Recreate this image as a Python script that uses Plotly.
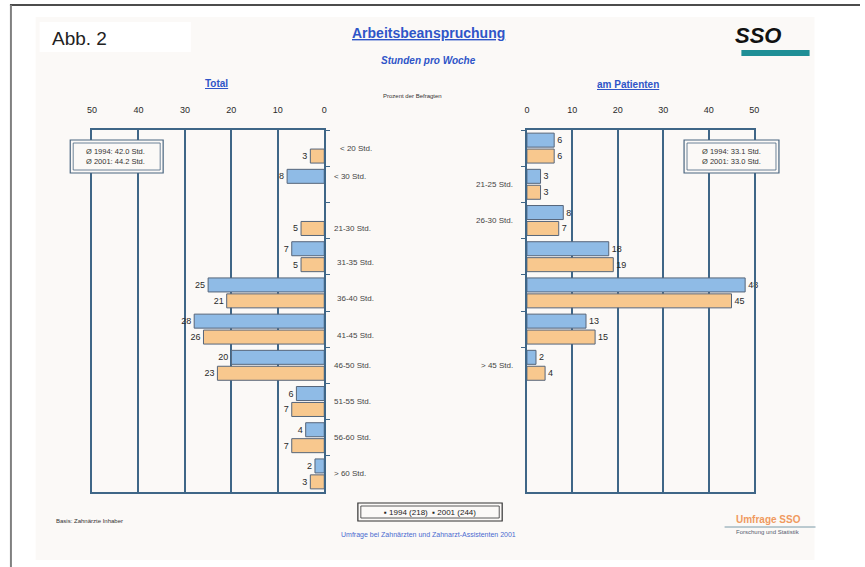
import plotly.graph_objects as go

# ---------------- data ----------------
left_categories = ["< 20 Std.", "< 30 Std.", "21-30 Std.", "31-35 Std.", "36-40 Std.",
                   "41-45 Std.", "46-50 Std.", "51-55 Std.", "56-60 Std.", "> 60 Std."]
left_1994 = [None, 8, None, 7, 25, 28, 20, 6, 4, 2]
left_2001 = [3, None, 5, 5, 21, 26, 23, 7, 7, 3]

right_categories = ["< 20 Std.", "21-25 Std.", "26-30 Std.", "31-35 Std.",
                    "36-40 Std.", "41-45 Std.", "> 45 Std."]
right_1994 = [6, 3, 8, 18, 48, 13, 2]
right_2001 = [6, 3, 7, 19, 45, 15, 4]

x_ticks = [0, 10, 20, 30, 40, 50]
avg_total = ["Ø 1994: 42.0 Std.", "Ø 2001: 44.2 Std."]
avg_patient = ["Ø 1994: 33.1 Std.", "Ø 2001: 33.0 Std."]
series_names = ["1994", "2001"]

W, H = 865, 567
def px(x): return x / W
def py(y): return 1 - y / H

BLUE = "#8fbbe6"
ORANGE = "#f8c88e"
EDGE = "#56657a"
GRID = "#3f6687"
TXT = "#2a2a2a"
TITLE_BLUE = "#2f55c8"
PANEL = "#fbf9f7"

fig = go.Figure()

def add_bars(vals, name, color, xa, ya, cats):
    fig.add_trace(go.Bar(
        y=cats, x=vals, orientation="h", name=name,
        marker=dict(color=color, line=dict(color=EDGE, width=1)),
        text=[("" if v is None else str(v)) for v in vals],
        textposition="outside", cliponaxis=False,
        textfont=dict(size=9, color=TXT, family="Liberation Sans"),
        xaxis=xa, yaxis=ya, showlegend=False, hoverinfo="skip"))

add_bars(left_1994, series_names[0], BLUE, "x", "y", left_categories)
add_bars(left_2001, series_names[1], ORANGE, "x", "y", left_categories)
add_bars(right_1994, series_names[0], BLUE, "x2", "y2", right_categories)
add_bars(right_2001, series_names[1], ORANGE, "x2", "y2", right_categories)

ydom = [py(492), py(130)]
axis_common = dict(
    side="top", tickvals=x_ticks, showgrid=True, gridcolor=GRID, gridwidth=1.5,
    showline=True, linecolor=GRID, linewidth=1.5, mirror=True, zeroline=False,
    ticks="", ticklabelstandoff=12,
    tickfont=dict(size=9, color=TXT, family="Liberation Sans"),
)
yaxis_common = dict(
    domain=ydom, type="category", range=[9.5, -0.5], showticklabels=False,
    showline=True, linecolor=GRID, linewidth=1.5, showgrid=False, mirror=True,
    ticks="outside", ticklen=4, tickcolor=GRID, tickson="boundaries",
)

fig.update_layout(
    width=W, height=H, margin=dict(l=0, r=0, t=0, b=0),
    paper_bgcolor="white", plot_bgcolor="rgba(0,0,0,0)",
    barmode="group", bargap=0.12, bargroupgap=0.12,
    font=dict(family="Liberation Sans", color=TXT),
    xaxis=dict(domain=[px(88), px(323)], range=[50, 0], anchor="y", **axis_common),
    yaxis=dict(anchor="x", side="right", **yaxis_common),
    xaxis2=dict(domain=[px(528), px(758)], range=[0, 50], anchor="y2", **axis_common),
    yaxis2=dict(anchor="x2", side="left", **yaxis_common),
)

shapes = []
# page frame lines
shapes.append(dict(type="line", xref="paper", yref="paper", x0=px(5), x1=1, y0=py(5), y1=py(5),
                   line=dict(color="#111", width=1.5)))
shapes.append(dict(type="line", xref="paper", yref="paper", x0=px(6), x1=px(6), y0=py(5), y1=0,
                   line=dict(color="#808080", width=2)))
# light panel
shapes.append(dict(type="rect", xref="paper", yref="paper", x0=px(31), x1=px(819), y0=py(560), y1=py(17),
                   fillcolor=PANEL, line=dict(width=0), layer="below"))
# Abb box
shapes.append(dict(type="rect", xref="paper", yref="paper", x0=px(35), x1=px(188), y0=py(52), y1=py(22),
                   fillcolor="white", line=dict(width=0), layer="below"))
# SSO teal bar
shapes.append(dict(type="rect", xref="paper", yref="paper", x0=px(745), x1=px(814), y0=py(56), y1=py(50),
                   fillcolor="#1f8f96", line=dict(width=0)))
# average boxes (double frame)
for (x0, x1) in [(66, 160), (687, 783)]:
    shapes.append(dict(type="rect", xref="paper", yref="paper", x0=px(x0), x1=px(x1), y0=py(173), y1=py(140),
                       fillcolor=PANEL, line=dict(color="#4a6680", width=1.2)))
    shapes.append(dict(type="rect", xref="paper", yref="paper", x0=px(x0 + 3), x1=px(x1 - 3), y0=py(170), y1=py(143),
                       fillcolor="rgba(0,0,0,0)", line=dict(color="#4a6680", width=0.8)))
# legend box (double frame)
shapes.append(dict(type="rect", xref="paper", yref="paper", x0=px(357), x1=px(503), y0=py(521), y1=py(503),
                   fillcolor="rgba(0,0,0,0)", line=dict(color="#333", width=1.2)))
shapes.append(dict(type="rect", xref="paper", yref="paper", x0=px(360), x1=px(500), y0=py(518), y1=py(506),
                   fillcolor="rgba(0,0,0,0)", line=dict(color="#333", width=0.8)))
# bottom-right logo line
shapes.append(dict(type="line", xref="paper", yref="paper", x0=px(728), x1=px(820), y0=py(527), y1=py(527),
                   line=dict(color="#7a9aa8", width=1)))
fig.update_layout(shapes=shapes)

ann = []
def text(x, y, s, size, color=TXT, xanchor="center", **kw):
    ann.append(dict(xref="paper", yref="paper", x=px(x), y=py(y), text=s, showarrow=False,
                    xanchor=xanchor, yanchor="middle", font=dict(size=size, color=color,
                    family=kw.pop("family", "Liberation Sans")), **kw))

text(46, 38, "Abb. 2", 19, "#222", xanchor="left")
text(428, 33, "<b><u>Arbeitsbeanspruchung</u></b>", 14, TITLE_BLUE)
text(428, 61, "<b><i>Stunden pro Woche</i></b>", 10, TITLE_BLUE)
text(214, 83, "<b><u>Total</u></b>", 10, TITLE_BLUE)
text(630, 84, "<b><u>am Patienten</u></b>", 10, TITLE_BLUE)
text(412, 96, "Prozent der Befragten", 6, "#333")
text(762, 35, "<b><i>SSO</i></b>", 22, "#111")
text(112, 156, "<br>".join(avg_total), 7.5, "#333")
text(735, 156, "<br>".join(avg_patient), 7.5, "#333")
text(430, 512, "▪ %s (218)  ▪ %s (244)" % tuple(series_names), 8, "#222")
text(50, 521, "Basis: Zahnärzte Inhaber", 6, "#333", xanchor="left")
text(428, 535, "Umfrage bei Zahnärzten und Zahnarzt-Assistenten 2001", 7, "#4a6ad0")
text(772, 519, "<b>Umfrage SSO</b>", 10, "#f09a60")
text(772, 532, "Forschung und Statistik", 6, "#556070")

# category labels in the middle
for i, c in enumerate(left_categories):
    single = (left_1994[i] is None) != (left_2001[i] is None)
    if c in right_categories:
        j = right_categories.index(c)
        ann.append(dict(xref="paper", yref="y2", x=px(355), y=j, text=c, showarrow=False,
                        xanchor="center", yshift=(0 if j == 0 else -6),
                        font=dict(size=8, color="#444")))
    else:
        shift = 0
        if single:
            shift = 8 if left_2001[i] is None else -8
        ann.append(dict(xref="paper", yref="y", x=px(331), y=i, text=c, showarrow=False,
                        xanchor="left", yshift=shift, font=dict(size=8, color="#444")))
for j, c in enumerate(right_categories):
    if c not in left_categories:
        ann.append(dict(xref="paper", yref="y2", x=px(516), y=j, text=c, showarrow=False,
                        xanchor="right", font=dict(size=8, color="#444")))

fig.update_layout(annotations=ann)
fig.write_html("out.html")
